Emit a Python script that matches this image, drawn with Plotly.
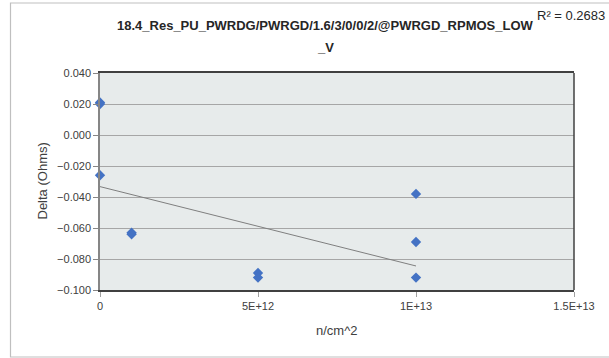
import plotly.graph_objects as go

# Data
fluence = [0, 0, 0, 1e12, 1e12, 5e12, 5e12, 1e13, 1e13, 1e13]
delta = [0.021, 0.020, -0.026, -0.063, -0.064, -0.089, -0.092, -0.038, -0.069, -0.092]

trend_x = [0, 1e13]
trend_y = [-0.0333, -0.0845]

x_tickvals = [0, 5e12, 1e13, 1.5e13]
x_ticktext = ["0", "5E+12", "1E+13", "1.5E+13"]
y_tickvals = [0.04, 0.02, 0.0, -0.02, -0.04, -0.06, -0.08, -0.1]

title_lines = ["18.4_Res_PU_PWRDG/PWRGD/1.6/3/0/0/2/@PWRGD_RPMOS_LOW", "_V"]
r2_text = "R² = 0.2683"
x_title = "n/cm^2"
y_title = "Delta (Ohms)"

fig = go.Figure()
fig.add_trace(go.Scatter(
    x=trend_x, y=trend_y, mode="lines",
    line=dict(color="#7f7f7f", width=1), hoverinfo="skip", showlegend=False))
fig.add_trace(go.Scatter(
    x=fluence, y=delta, mode="markers",
    marker=dict(symbol="diamond", size=8, color="#4472C4"),
    cliponaxis=False, showlegend=False))

W, H = 609, 358
L, R, T, B = 100, 35, 73, 68
pw, ph = W - L - R, H - T - B

def px(x):
    return (x - L) / pw

def py(y):
    return (H - B - y) / ph

font_family = "Liberation Sans, Arial, sans-serif"

annotations = []
for i, line in enumerate(title_lines):
    annotations.append(dict(
        text="<b>" + line + "</b>", xref="paper", yref="paper",
        x=px(325), y=py(26 + 21 * i), xanchor="center", yanchor="middle",
        showarrow=False,
        font=dict(size=13, color="#262626", family=font_family)))
annotations += [
    dict(text=r2_text, xref="paper", yref="paper",
         x=px(607), y=py(15), xanchor="right", yanchor="middle",
         showarrow=False,
         font=dict(size=13, color="#262626", family=font_family)),
    dict(text=x_title, xref="paper", yref="paper",
         x=0.5, y=py(330), xanchor="center", yanchor="middle",
         showarrow=False,
         font=dict(size=13, color="#404040", family=font_family)),
    dict(text=y_title, xref="paper", yref="paper",
         x=px(42), y=0.5, xanchor="center", yanchor="middle",
         showarrow=False, textangle=-90,
         font=dict(size=13, color="#404040", family=font_family)),
]

fig.update_layout(
    width=W, height=H,
    margin=dict(l=L, r=R, t=T, b=B, autoexpand=False),
    paper_bgcolor="white",
    plot_bgcolor="#E7EBEB",
    font=dict(family=font_family, size=11, color="#404040"),
    xaxis=dict(
        range=[0, 1.5e13], tickvals=x_tickvals, ticktext=x_ticktext,
        showgrid=False, zeroline=False, automargin=False,
        showline=True, linecolor="#404040", linewidth=1.5, mirror=True,
        ticks="outside", ticklen=5, tickcolor="#A0A0A0",
        tickfont=dict(size=11, color="#404040"),
    ),
    yaxis=dict(
        range=[-0.1, 0.04], tickvals=y_tickvals, tickformat=".3f",
        showgrid=True, gridcolor="#A6A6A6", gridwidth=1.3,
        zeroline=False, automargin=False,
        showline=True, linecolor="#868686", linewidth=1.5,
        ticks="outside", ticklen=5, tickcolor="#868686",
        tickfont=dict(size=11, color="#404040"),
    ),
    shapes=[
        dict(type="line", xref="paper", yref="paper", x0=1, x1=1, y0=0, y1=1,
             line=dict(color="#404040", width=1.5)),
        dict(type="rect", xref="paper", yref="paper",
             x0=px(10.5), x1=px(W + 5), y0=py(357), y1=py(3),
             line=dict(color="#BFBFBF", width=1.2), layer="below"),
    ],
    annotations=annotations,
)

fig.write_html(
    "out.html",
    config={"displayModeBar": False},
    post_script="document.body.style.margin='0';document.body.style.padding='0';"
                "document.body.style.overflow='hidden';",
)
